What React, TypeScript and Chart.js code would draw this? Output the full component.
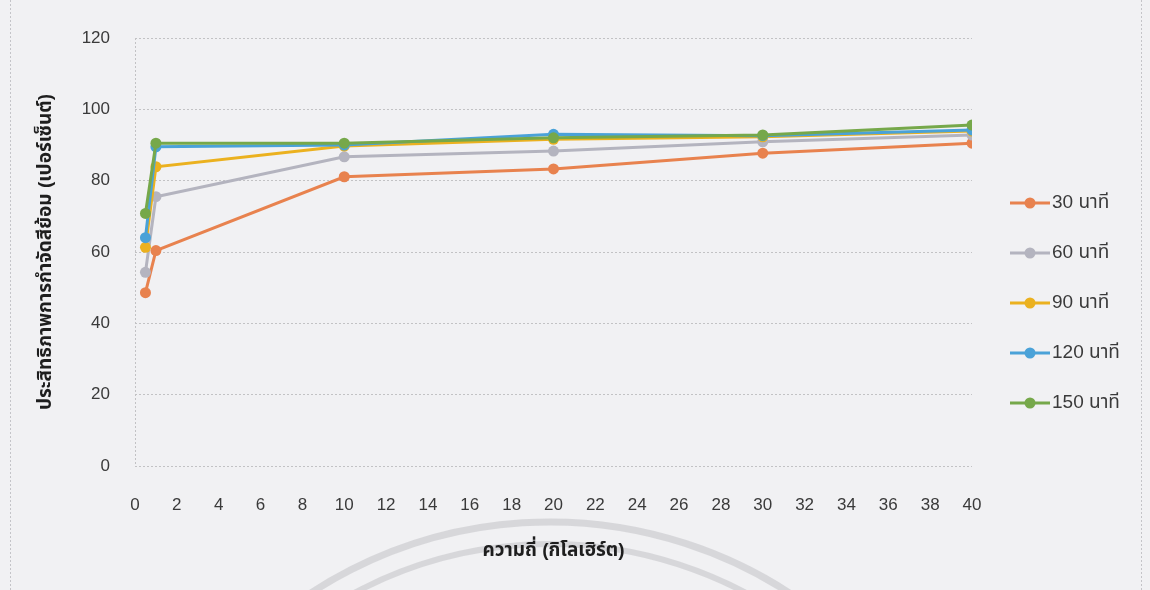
import React, { useEffect, useRef } from "react";
import { Chart, registerables } from "chart.js";

Chart.register(...registerables);

// Frequency (kHz) at which dye removal was measured
const frequencies = [0.5, 1, 10, 20, 30, 40];

// Dye removal efficiency (%) for each contact time
const removal30 = [48.6, 60.4, 81.1, 83.3, 87.7, 90.5];
const removal60 = [54.3, 75.5, 86.7, 88.3, 90.9, 92.8];
const removal90 = [61.3, 83.9, 89.7, 91.6, 92.3, 93.9];
const removal120 = [64.0, 89.5, 90.0, 93.0, 92.6, 94.2];
const removal150 = [70.8, 90.5, 90.5, 92.0, 92.8, 95.6];

const seriesLabels = ["30 นาที", "60 นาที", "90 นาที", "120 นาที", "150 นาที"];
const seriesValues = [removal30, removal60, removal90, removal120, removal150];
const seriesColors = ["#E8824E", "#B4B4BF", "#EBB11F", "#4AA2D8", "#76A84A"];

const xTitle = "ความถี่ (กิโลเฮิร์ต)";
const yTitle = "ประสิทธิภาพการกำจัดสีย้อม (เปอร์เซ็นต์)";

const FONT = "'Liberation Sans', 'Noto Sans Thai', 'Noto Sans', sans-serif";
const GRID = "#c2c2c4";

const pagePlugin = {
  id: "page",
  beforeDraw(chart: any) {
    const { ctx, width, height } = chart;
    ctx.save();
    ctx.fillStyle = "#f1f1f3";
    ctx.fillRect(0, 0, width, height);
    // dotted frame edges
    ctx.strokeStyle = "#c4c4c8";
    ctx.lineWidth = 1;
    ctx.setLineDash([2, 2]);
    ctx.beginPath();
    ctx.moveTo(10.5, 0);
    ctx.lineTo(10.5, height);
    ctx.moveTo(1141.5, 0);
    ctx.lineTo(1141.5, height);
    ctx.stroke();
    ctx.setLineDash([]);
    // faint seal arcs near the bottom
    ctx.strokeStyle = "rgba(185,185,188,0.45)";
    ctx.lineWidth = 7;
    ctx.beginPath();
    ctx.arc(550, 960, 438, Math.PI * 1.1, Math.PI * 1.9);
    ctx.stroke();
    ctx.lineWidth = 6;
    ctx.beginPath();
    ctx.arc(550, 960, 416, Math.PI * 1.1, Math.PI * 1.9);
    ctx.stroke();
    ctx.restore();
  },
  afterDraw(chart: any) {
    const { ctx } = chart;
    ctx.save();
    ctx.font = `19px ${FONT}`;
    ctx.textBaseline = "middle";
    ctx.textAlign = "left";
    chart.data.datasets.forEach((ds: any, i: number) => {
      const y = 203 + i * 50;
      ctx.strokeStyle = ds.borderColor;
      ctx.lineWidth = 3;
      ctx.beginPath();
      ctx.moveTo(1010, y);
      ctx.lineTo(1050, y);
      ctx.stroke();
      ctx.fillStyle = ds.borderColor;
      ctx.beginPath();
      ctx.arc(1030, y, 5.5, 0, Math.PI * 2);
      ctx.fill();
      ctx.fillStyle = "#3a3a3a";
      ctx.fillText(ds.label, 1052, y);
    });
    ctx.restore();
  },
};

export default function App() {
  const canvasRef = useRef<HTMLCanvasElement | null>(null);

  useEffect(() => {
    if (!canvasRef.current) return;
    const datasets = seriesLabels.map((label, i) => ({
      label,
      data: frequencies.map((f, j) => ({ x: f, y: seriesValues[i][j] })),
      borderColor: seriesColors[i],
      backgroundColor: seriesColors[i],
      borderWidth: 3,
      pointRadius: 5.5,
      pointBorderWidth: 0,
      pointBackgroundColor: seriesColors[i],
      tension: 0,
      order: seriesLabels.length - i,
    }));

    const chart = new Chart(canvasRef.current, {
      type: "line",
      data: { datasets },
      options: {
        responsive: false,
        animation: false,
        layout: { padding: { top: 38, right: 178, left: 0, bottom: 0 } },
        plugins: {
          legend: { display: false },
          tooltip: { enabled: false },
        },
        scales: {
          x: {
            type: "linear",
            min: 0,
            max: 40,
            ticks: {
              stepSize: 2,
              color: "#3a3a3a",
              font: { family: FONT, size: 17 },
              padding: 29,
              maxRotation: 0,
              autoSkip: false,
            },
            grid: {
              color: (c: any) => (c.tick && c.tick.value === 0 ? GRID : "rgba(0,0,0,0)"),
              drawTicks: false,
              lineWidth: 1,
            },
            border: { display: false, dash: [2, 2] },
            title: {
              display: true,
              text: xTitle,
              color: "#1e1e1e",
              font: { family: FONT, size: 19, weight: "bold" },
              padding: { top: 0, bottom: 28 },
            },
            afterFit: (s: any) => {
              s.height = 124;
            },
          },
          y: {
            min: 0,
            max: 120,
            ticks: {
              stepSize: 20,
              color: "#3a3a3a",
              font: { family: FONT, size: 17 },
              padding: 25,
            },
            grid: { color: GRID, drawTicks: false, lineWidth: 1 },
            border: { display: false, dash: [2, 2] },
            title: {
              display: true,
              text: yTitle,
              color: "#1e1e1e",
              font: { family: FONT, size: 19, weight: "bold" },
              padding: { top: 34, bottom: 0 },
            },
            afterFit: (s: any) => {
              s.width = 135;
            },
          },
        },
      },
      plugins: [pagePlugin],
    });
    return () => chart.destroy();
  }, []);

  return (
    <div style={{ position: "fixed", left: 0, top: 0, width: 1150, height: 590 }}>
      <canvas ref={canvasRef} width={1150} height={590} style={{ display: "block" }} />
    </div>
  );
}
